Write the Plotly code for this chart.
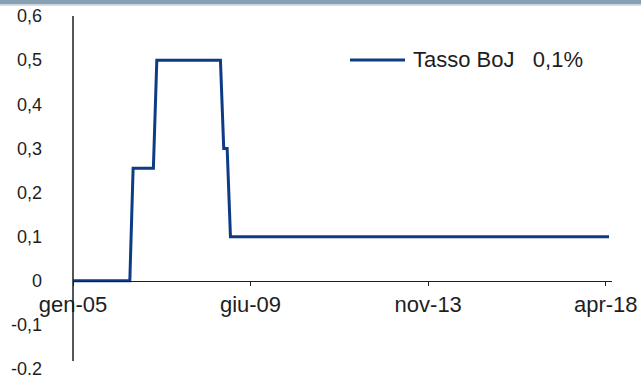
import plotly.graph_objects as go

# Tasso ufficiale BoJ: punti mensili in cui la serie cambia livello
dates = ["2005-01-01", "2006-06-01", "2006-07-01", "2007-01-01", "2007-02-01",
         "2008-09-01", "2008-10-01", "2008-11-01", "2008-12-01", "2018-05-01"]
rates = [0, 0, 0.255, 0.255, 0.5, 0.5, 0.3, 0.3, 0.1, 0.1]

x_tick_dates = ["2005-01-01", "2009-06-01", "2013-11-01", "2018-04-01"]
x_tick_labels = ["gen-05", "giu-09", "nov-13", "apr-18"]

y_tick_values = [-0.2, -0.1, 0, 0.1, 0.2, 0.3, 0.4, 0.5, 0.6]
y_tick_labels = ["-0.2", "-0,1", "0", "0,1", "0,2", "0,3", "0,4", "0,5", "0,6"]

series_name = "Tasso BoJ   0,1%"

W, H = 641, 378
M = dict(l=73, r=29, t=16, b=9)
PLOT_W = W - M["l"] - M["r"]
PLOT_H = H - M["t"] - M["b"]
Y_RANGE = [-0.2, 0.6]
X_RANGE = ["2005-01-01", "2018-05-28"]

LINE = "#0d3c84"
INK = "#1e1e1e"
FONT = "Liberation Sans, Arial, sans-serif"


def paper_x(px):
    return (px - M["l"]) / PLOT_W


def paper_y(py):
    return (H - M["b"] - py) / PLOT_H


fig = go.Figure()
fig.add_trace(go.Scatter(
    x=dates, y=rates, mode="lines", name=series_name,
    line=dict(color=LINE, width=3), showlegend=False, hoverinfo="skip",
))

shapes = [
    # fascia del titolo in alto
    dict(type="rect", xref="paper", yref="paper",
         x0=paper_x(0), x1=paper_x(W), y0=paper_y(4.4), y1=paper_y(-2),
         fillcolor="#87a0b4", line_width=0, layer="above"),
    dict(type="rect", xref="paper", yref="paper",
         x0=paper_x(0), x1=paper_x(W), y0=paper_y(5.8), y1=paper_y(4.4),
         fillcolor="#c9d5df", line_width=0, layer="above"),
    # asse verticale
    dict(type="line", xref="paper", yref="y", x0=0, x1=0, y0=-0.182, y1=0.6,
         line=dict(color=INK, width=1.5)),
    # campione della legenda
    dict(type="line", xref="paper", yref="paper",
         x0=paper_x(350), x1=paper_x(405), y0=paper_y(60), y1=paper_y(60),
         line=dict(color=LINE, width=3)),
]

fig.update_layout(
    width=W, height=H,
    margin=dict(l=M["l"], r=M["r"], t=M["t"], b=M["b"], pad=0),
    paper_bgcolor="white", plot_bgcolor="white",
    font=dict(family=FONT, color=INK),
    shapes=shapes,
    annotations=[dict(
        text=series_name, xref="paper", yref="paper",
        x=paper_x(411), y=paper_y(59), xanchor="left", yanchor="middle",
        showarrow=False, font=dict(family=FONT, size=22, color=INK),
    )],
    xaxis=dict(
        type="date", range=X_RANGE, automargin=False,
        tickmode="array", tickvals=x_tick_dates, ticktext=x_tick_labels,
        ticks="outside", ticklen=4, tickwidth=1.3, tickcolor=INK,
        showline=True, linecolor=INK, linewidth=1.3,
        anchor="free", position=(0 - Y_RANGE[0]) / (Y_RANGE[1] - Y_RANGE[0]),
        showgrid=False, zeroline=False,
        tickfont=dict(family=FONT, size=22, color=INK),
    ),
    yaxis=dict(
        range=Y_RANGE, automargin=False,
        tickmode="array", tickvals=y_tick_values, ticktext=y_tick_labels,
        ticks="", showline=False, showgrid=False, zeroline=False,
        ticklabelstandoff=30, ticklabeloverflow="allow",
        tickfont=dict(family=FONT, size=18, color=INK),
    ),
)

fig.write_html("out.html")
